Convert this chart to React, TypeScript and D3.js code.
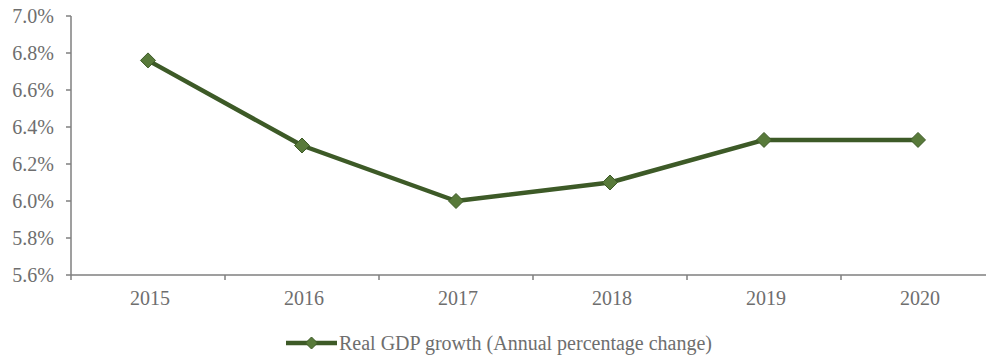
import React from "react";
import * as d3 from "d3";

const years = ["2015", "2016", "2017", "2018", "2019", "2020"];
const gdpGrowth = [6.76, 6.3, 6.0, 6.1, 6.33, 6.33];
const yTicks = [5.6, 5.8, 6.0, 6.2, 6.4, 6.6, 6.8, 7.0];
const seriesName = "Real GDP growth (Annual percentage change)";

const W = 986;
const H = 356;
const left = 71;
const right = 995;
const top = 16;
const bottom = 275;
const lineColor = "#3d5a27";
const markerFill = "#587a3a";
const axisColor = "#7f7f7f";
const textColor = "#6e6e6e";
const font = "'Liberation Serif', 'Times New Roman', serif";
const fontSize = 20;

function Diamond({ cx, cy, r }: { cx: number; cy: number; r: number }) {
  return (
    <path
      d={`M${cx},${cy - r}L${cx + r},${cy}L${cx},${cy + r}L${cx - r},${cy}Z`}
      fill={markerFill}
      stroke={lineColor}
      strokeWidth={1}
    />
  );
}

export default function App() {
  const x = d3.scaleBand<string>().domain(years).range([left, right]);
  const y = d3.scaleLinear().domain([5.6, 7.0]).range([bottom, top]);
  const cx = (d: string) => (x(d) as number) + x.bandwidth() / 2;
  const line = d3
    .line<number>()
    .x((_, i) => cx(years[i]))
    .y((v) => y(v));

  const legendY = 343;
  return (
    <div style={{ position: "absolute", left: 0, top: 0, width: W, height: H, overflow: "hidden", background: "#fff" }}>
      <svg width={W} height={H} style={{ display: "block" }}>
        {/* y axis */}
        <line x1={left} x2={left} y1={top} y2={bottom} stroke={axisColor} strokeWidth={1.5} />
        {yTicks.map((t) => (
          <g key={t}>
            <line x1={left - 5} x2={left} y1={y(t)} y2={y(t)} stroke={axisColor} strokeWidth={1.5} />
            <text
              x={left - 17}
              y={y(t)}
              dy="0.33em"
              textAnchor="end"
              fontFamily={font}
              fontSize={fontSize}
              fill={textColor}
            >
              {t.toFixed(1)}%
            </text>
          </g>
        ))}
        {/* x axis */}
        <line x1={left} x2={right} y1={bottom} y2={bottom} stroke={axisColor} strokeWidth={1.5} />
        {years.map((yr) => (
          <g key={yr}>
            <line
              x1={x(yr) as number}
              x2={x(yr) as number}
              y1={bottom}
              y2={bottom + 5}
              stroke={axisColor}
              strokeWidth={1.5}
            />
            <text
              x={cx(yr) + 2}
              y={bottom + 30}
              textAnchor="middle"
              fontFamily={font}
              fontSize={fontSize}
              fill={textColor}
            >
              {yr}
            </text>
          </g>
        ))}
        {/* series */}
        <path d={line(gdpGrowth) || ""} fill="none" stroke={lineColor} strokeWidth={4.5} strokeLinejoin="round" />
        {gdpGrowth.map((v, i) => (
          <Diamond key={i} cx={cx(years[i])} cy={y(v)} r={7.5} />
        ))}
        {/* legend */}
        <line x1={286} x2={337} y1={legendY} y2={legendY} stroke={lineColor} strokeWidth={4.5} />
        <Diamond cx={311.5} cy={legendY} r={6} />
        <text x={339} y={legendY} dy="0.35em" fontFamily={font} fontSize={fontSize} fill={textColor}>
          {seriesName}
        </text>
      </svg>
    </div>
  );
}
